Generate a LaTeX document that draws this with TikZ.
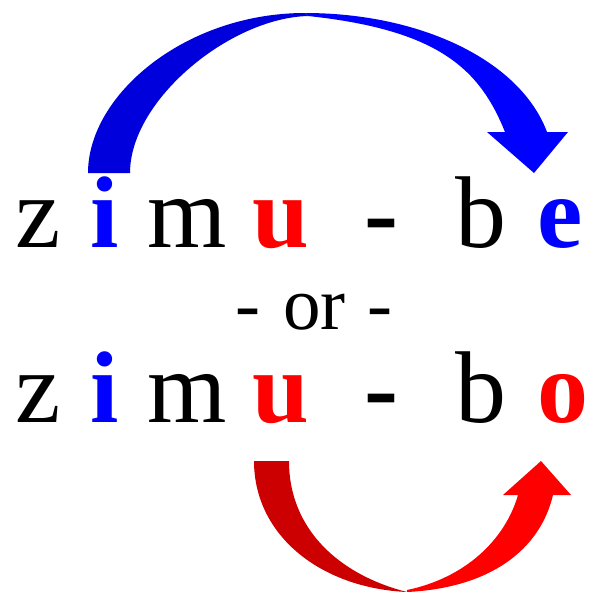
\documentclass[tikz,border=0pt]{standalone}
\usepackage{fontspec}
\setmainfont{Liberation Serif}
\definecolor{cBlueDk}{RGB}{0,0,220}
\definecolor{cBlue}  {RGB}{0,0,255}
\definecolor{cRedDk} {RGB}{204,0,0}
\definecolor{cRed}   {RGB}{255,0,0}
\tikzset{
  glyph/.style={inner sep=0pt,anchor=base,font=\fontsize{102}{102}\selectfont},
  plain/.style={glyph,text=black},
  sep/.style={glyph,font=\fontsize{102}{102}\selectfont\bfseries,text=black},
  vowelB/.style={glyph,font=\fontsize{102}{102}\selectfont\bfseries,text=cBlue},
  vowelR/.style={glyph,font=\fontsize{102}{102}\selectfont\bfseries,text=cRed},
  orword/.style={inner sep=0pt,anchor=base,font=\fontsize{75}{75}\selectfont},
}
\begin{document}
\begin{tikzpicture}[x=1pt,y=-1pt]
  \useasboundingbox (0,0) rectangle (590,592);
  % blue arrow, i -> e
  \fill[cBlueDk] (88,173) .. controls (88,95) and (185,13) .. (305,13)
    -- (308,16) .. controls (230,18) and (130,100) .. (130,173) -- cycle;
  \fill[cBlue] (305,13) .. controls (420,13) and (520,60) .. (547,132)
    -- (568,132) -- (534,173) -- (487,132) -- (505,132)
    .. controls (480,70) and (440,30) .. (308,16) -- cycle;
  % red arrow, u -> o
  \fill[cRedDk] (254,461) .. controls (254,535) and (320,588) .. (407,592)
    .. controls (340,575) and (289,530) .. (289,461) -- cycle;
  \fill[cRed] (407,592) .. controls (490,588) and (540,550) .. (553,495)
    -- (571,495) -- (541,461) -- (503,495) -- (518,495)
    .. controls (505,540) and (465,578) .. (407,590) -- cycle;
  % the two words
  \foreach \row/\y/\last/\lx/\lsty in {top/247/e/560/vowelB, bot/422/o/563/vowelR}{
    \foreach \k/\x/\ch/\sty in {z/38/z/plain, i/104.5/i/vowelB, m/187/m/plain,
        u/280.5/u/vowelR, h/381.5/-/sep, b/481/b/plain}
      \node[\sty] (\row-\k) at (\x,\y) {\ch};
    \node[\lsty] (\row-v) at (\lx,\y) {\last};
  }
  \node[orword] (orL) at (247.5,329) {-};
  \node[orword] (or)  at (314.5,329) {or};
  \node[orword] (orR) at (380,329) {-};
\end{tikzpicture}
\end{document}
